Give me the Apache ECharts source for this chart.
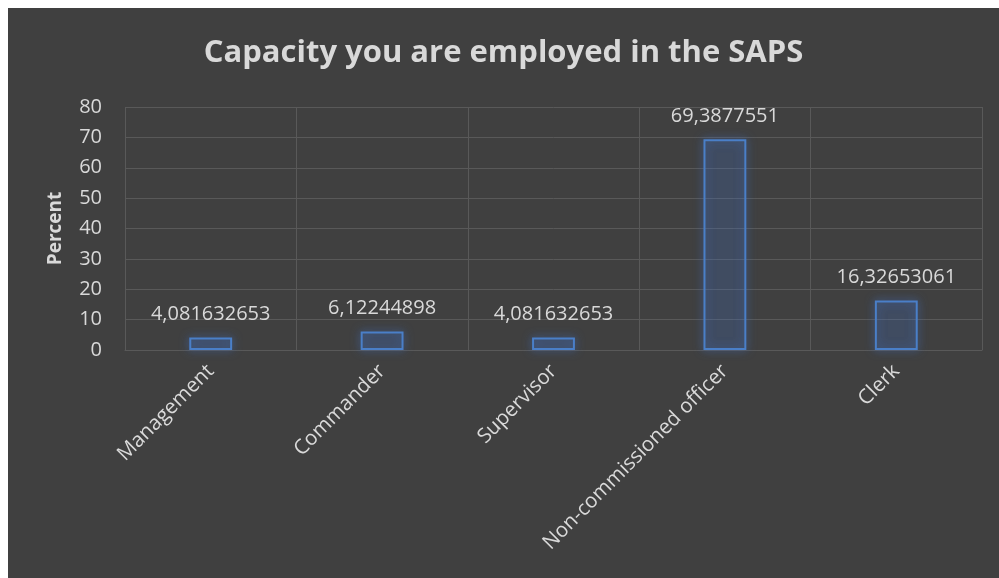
<!DOCTYPE html>
<html>
<head>
<meta charset="utf-8">
<style>
  html, body { margin: 0; padding: 0; background: #ffffff; }
  #chart { position: absolute; left: 8px; top: 8px; width: 991px; height: 570px; }
</style>
<script src="https://cdn.jsdelivr.net/npm/echarts@6/dist/echarts.min.js"></script>
</head>
<body>
<div id="chart"></div>
<script>
// Capacity in which respondents are employed in the SAPS (percent)
const categories = ['Management', 'Commander', 'Supervisor', 'Non-commissioned officer', 'Clerk'];
const percentValues = [4.081632653, 6.12244898, 4.081632653, 69.3877551, 16.32653061];
const valueLabels = ['4,081632653', '6,12244898', '4,081632653', '69,3877551', '16,32653061'];
const yTicks = [0, 10, 20, 30, 40, 50, 60, 70, 80];

const FONT = 'Open Sans';
const TEXT = '#d9d9d9';
const GRID = '#595959';

const chart = echarts.init(document.getElementById('chart'));
chart.setOption({
  backgroundColor: '#404040',
  animation: false,
  title: {
    text: 'Capacity you are employed in the SAPS',
    left: 'center',
    top: 25,
    textStyle: { color: TEXT, fontFamily: FONT, fontWeight: 'bold', fontSize: 31 }
  },
  grid: { left: 117, right: 17, top: 99, bottom: 228 },
  xAxis: {
    type: 'category',
    data: categories,
    axisLine: { show: true, lineStyle: { color: GRID, width: 1 } },
    axisTick: { show: false },
    splitLine: { show: true, lineStyle: { color: GRID, width: 1 } },
    axisLabel: {
      interval: 0,
      rotate: 45,
      margin: 18,
      color: TEXT,
      fontFamily: FONT,
      fontSize: 20.5
    }
  },
  yAxis: {
    type: 'value',
    min: yTicks[0],
    max: yTicks[yTicks.length - 1],
    interval: 10,
    name: 'Percent',
    nameLocation: 'middle',
    nameGap: 60,
    nameTextStyle: { color: TEXT, fontFamily: FONT, fontWeight: 'bold', fontSize: 19 },
    axisLine: { show: false },
    axisTick: { show: false },
    splitLine: { show: true, lineStyle: { color: GRID, width: 1 } },
    axisLabel: { color: TEXT, fontFamily: FONT, fontSize: 20, margin: 23 }
  },
  series: [{
    type: 'bar',
    data: percentValues,
    barWidth: '25%',
    itemStyle: {
      color: 'rgba(68,114,196,0.15)',
      borderColor: '#4a7fc8',
      borderWidth: 2,
      shadowColor: 'rgba(68,114,196,0.9)',
      shadowBlur: 10
    },
    label: {
      show: true,
      position: 'top',
      distance: 13,
      color: TEXT,
      fontFamily: FONT,
      fontSize: 20,
      formatter: p => valueLabels[p.dataIndex]
    }
  }]
});
</script>
</body>
</html>
